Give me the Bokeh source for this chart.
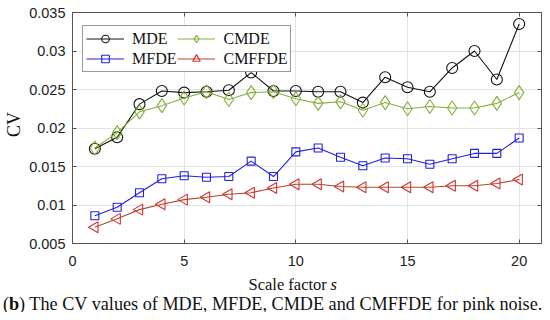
import math
from bokeh.plotting import figure
from bokeh.models import (LinearAxis, FixedTicker, Legend, LegendItem, Range1d, Label,
                          CustomLabelingPolicy, Grid)
from bokeh.embed import file_html
from bokeh.resources import INLINE

s = list(range(1, 21))
mde = [0.0173, 0.0188, 0.0231, 0.0248, 0.0246, 0.0247, 0.0249, 0.0272, 0.0248, 0.0248,
       0.0247, 0.0247, 0.0233, 0.0266, 0.0253, 0.0247, 0.0278, 0.0300, 0.0263, 0.0335]
cmde = [0.0174, 0.0194, 0.0221, 0.0229, 0.0239, 0.0247, 0.0237, 0.0246, 0.0247, 0.0238,
        0.0232, 0.0234, 0.0223, 0.0233, 0.0225, 0.0228, 0.0226, 0.0226, 0.0232, 0.0246]
mfde = [0.0086, 0.0097, 0.0116, 0.0134, 0.0138, 0.0136, 0.0137, 0.0157, 0.0137, 0.0169,
        0.0174, 0.0162, 0.0151, 0.0161, 0.0160, 0.0153, 0.0160, 0.0167, 0.0167, 0.0187]
cmffde = [0.0071, 0.0082, 0.0094, 0.0101, 0.0107, 0.0110, 0.0114, 0.0116, 0.0122, 0.0127,
          0.0127, 0.0124, 0.0123, 0.0123, 0.0123, 0.0123, 0.0125, 0.0125, 0.0128, 0.0133]

x_lim = (0, 21)
y_lim = (0.005, 0.035)
x_ticks = [0, 5, 10, 15, 20]
y_ticks = [0.005, 0.01, 0.015, 0.02, 0.025, 0.03, 0.035]
y_tick_labels = ["0.005", "0.01", "0.015", "0.02", "0.025", "0.03", "0.035"]

y_title = "CV"
x_title = ["Scale factor ", "s"]
caption = ["(", "b", ") The CV values of MDE, MFDE, CMDE and CMFFDE for pink noise."]

SERIF = "Liberation Serif"
SANS = "Liberation Sans"
AX = "#555555"

# canvas size and the pixel box of the plotting area inside it
W, H = 542, 312
L, R, T, B = 72, 541, 12, 243
kx = (R - L) / (x_lim[1] - x_lim[0])
ky = (B - T) / (y_lim[1] - y_lim[0])
xr = Range1d(x_lim[0] - L / kx, x_lim[1] + (W - R) / kx)
yr = Range1d(y_lim[0] - (H - B) / ky, y_lim[1] + T / ky)

p = figure(width=W, height=H, output_backend="svg", toolbar_location=None,
           x_range=xr, y_range=yr, x_axis_type=None, y_axis_type=None,
           min_border=0, min_border_left=0, min_border_right=0,
           min_border_top=0, min_border_bottom=0)
p.outline_line_color = None
p.background_fill_color = "white"
p.border_fill_color = "white"

hide = CustomLabelingPolicy(code="for (const i of indices) indices.unset(i)")

def make_axis(ticks, loc, bounds, labels=True):
    a = LinearAxis(ticker=FixedTicker(ticks=ticks), fixed_location=loc, bounds=bounds,
                   axis_line_color=AX, major_tick_line_color=AX, major_tick_in=4,
                   major_tick_out=0, minor_tick_line_color=None,
                   major_label_text_font=SANS, major_label_text_font_size="14.5px",
                   major_label_text_color="#222222")
    if not labels:
        a.major_label_policy = hide
    return a

bottom = make_axis(x_ticks, y_lim[0], x_lim)
bottom.major_label_standoff = 12
left = make_axis(y_ticks, x_lim[0], y_lim)
left.major_label_standoff = 7
left.major_label_overrides = {t: l for t, l in zip(y_ticks, y_tick_labels)}
top = make_axis(x_ticks, y_lim[1], x_lim, labels=False)
right = make_axis(y_ticks, x_lim[1], y_lim, labels=False)
p.add_layout(bottom, "below")
p.add_layout(left, "left")
p.add_layout(top, "above")
p.add_layout(right, "right")

p.add_layout(Grid(dimension=0, ticker=FixedTicker(ticks=x_ticks), cross_bounds=y_lim,
                  bounds=x_lim, grid_line_color="#e3e3e3", level="underlay"))
p.add_layout(Grid(dimension=1, ticker=FixedTicker(ticks=y_ticks), cross_bounds=x_lim,
                  bounds=y_lim, grid_line_color="#e3e3e3", level="underlay"))

c_mde = "#111111"
c_cmde = "#86ad3c"
c_mfde = "#2020e0"
c_cmffde_line = "#b04a2a"
c_cmffde_mk = "#d63030"

l1 = p.line(s, mde, color=c_mde, line_width=1.1)
m1 = p.scatter(s, mde, marker="circle", size=11, line_color=c_mde, fill_color=None, line_width=1.1)
l2 = p.line(s, cmde, color=c_cmde, line_width=1.1)
m2 = p.scatter(s, cmde, marker="diamond", size=14, line_color=c_cmde, fill_color=None, line_width=1.1)
l3 = p.line(s, mfde, color=c_mfde, line_width=1.1)
m3 = p.scatter(s, mfde, marker="square", size=8, line_color=c_mfde, fill_color=None, line_width=1.1)
l4 = p.line(s, cmffde, color=c_cmffde_line, line_width=1.1)
m4 = p.scatter(s, cmffde, marker="triangle", angle=math.pi / 2, size=11,
               line_color=c_cmffde_mk, fill_color=None, line_width=1.1)

legend = Legend(items=[
    LegendItem(label="MDE", renderers=[l1, m1]),
    LegendItem(label="CMDE", renderers=[l2, m2]),
    LegendItem(label="MFDE", renderers=[l3, m3]),
    LegendItem(label="CMFFDE", renderers=[l4, m4]),
], location=(82, H - 22 - 50), orientation="horizontal", nrows=2,
    label_text_font=SERIF, label_text_font_size="16px", label_text_color="#111111",
    glyph_width=38, glyph_height=19, label_height=19, label_standoff=8,
    spacing=1, padding=3, margin=0,
    border_line_color="#333333", border_line_width=1, background_fill_alpha=1.0)
p.add_layout(legend)

def lab(x, y, text, size, style="normal", angle=0.0, align="left"):
    p.add_layout(Label(x=x, y=y, x_units="canvas", y_units="canvas", text=text,
                       angle=angle, text_align=align, text_baseline="middle",
                       text_font=SERIF, text_font_size=size, text_font_style=style,
                       text_color="#111111"))

lab(13, 124, y_title, "18px", angle=math.pi / 2, align="center")
lab(248, 284, x_title[0], "16.5px")
lab(330, 284, x_title[1], "16.5px", style="italic")
lab(2.5, 303, caption[0], "18.2px")
lab(8.5, 303, caption[1], "18.2px", style="bold")
lab(18.6, 303, caption[2], "18.2px")

open("out.html", "w").write(file_html(p, INLINE))
